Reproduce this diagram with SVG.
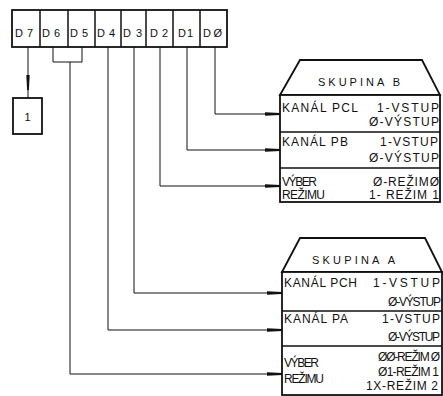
<svg xmlns="http://www.w3.org/2000/svg" width="443" height="396" viewBox="0 0 443 396">
<style>
text{font-family:"Liberation Sans","DejaVu Sans",Arial,sans-serif;fill:#111;}
.reg{font-size:11px;}
.t{font-size:12px;}
.h{font-size:11px;}
.box{fill:#fff;stroke:#111;stroke-width:1.8;}
.div{stroke:#111;stroke-width:1.5;fill:none;}
.wire{stroke:#111;stroke-width:1;fill:none;}
</style>
<defs>
<marker id="arr" markerUnits="userSpaceOnUse" markerWidth="16" markerHeight="5" refX="15" refY="2.5" orient="auto" viewBox="0 0 16 5">
<path d="M0,0.8 L15,1.6 L15,3.4 L0,4.2 z" fill="#111"/>
</marker>
</defs>
<g id="register">
<rect class="box" x="12" y="10" width="215" height="37"/>
<path class="div" d="M40,10V47M68,10V47M95,10V47M121,10V47M146,10V47M173,10V47M200,10V47"/>
<text class="reg" x="15" y="37" textLength="18" lengthAdjust="spacing">D7</text>
<text class="reg" x="42" y="37" textLength="18" lengthAdjust="spacing">D6</text>
<text class="reg" x="70" y="37" textLength="18" lengthAdjust="spacing">D5</text>
<text class="reg" x="97" y="37" textLength="18" lengthAdjust="spacing">D4</text>
<text class="reg" x="123" y="37" textLength="19" lengthAdjust="spacing">D3</text>
<text class="reg" x="150" y="37" textLength="18" lengthAdjust="spacing">D2</text>
<text class="reg" x="178" y="37" textLength="15" lengthAdjust="spacing">D1</text>
<text class="reg" x="203" y="37" textLength="19" lengthAdjust="spacing">DØ</text>
</g>
<g id="box1">
<rect class="box" x="13" y="98" width="29" height="36"/>
<text class="reg" x="27.5" y="121" text-anchor="middle">1</text>
</g>
<g id="skupinaB">
<path class="box" d="M280,95 L300,60 L422,60 L440,95 Z"/>
<rect class="box" x="280" y="95" width="160" height="107"/>
<path class="div" d="M280,132H440M280,168H440"/>
<text class="h" x="318" y="86" textLength="82" lengthAdjust="spacing">SKUPINA  B</text>
<text class="t" x="282" y="112" textLength="76" lengthAdjust="spacing">KANÁL  PCL</text>
<text class="t" x="377" y="112" textLength="62" lengthAdjust="spacing">1-VSTUP</text>
<text class="t" x="369" y="126" textLength="70" lengthAdjust="spacing">Ø-VÝSTUP</text>
<text class="t" x="282" y="146" textLength="66" lengthAdjust="spacing">KANÁL  PB</text>
<text class="t" x="380" y="146" textLength="58" lengthAdjust="spacing">1-VSTUP</text>
<text class="t" x="369" y="162" textLength="70" lengthAdjust="spacing">Ø-VÝSTUP</text>
<text class="t" x="282" y="186" textLength="35" lengthAdjust="spacing">VÝBER</text>
<text class="t" x="282" y="199" textLength="43" lengthAdjust="spacing">REŽIMU</text>
<text class="t" x="373" y="186" textLength="66" lengthAdjust="spacing">Ø-REŽIMØ</text>
<text class="t" x="369" y="199" textLength="70" lengthAdjust="spacing">1- REŽIM 1</text>
</g>
<g id="skupinaA">
<path class="box" d="M282,272 L300,238 L425,238 L442,272 Z"/>
<rect class="box" x="282" y="272" width="160" height="123"/>
<path class="div" d="M282,311H442M282,346H442"/>
<text class="h" x="312" y="264" textLength="83" lengthAdjust="spacing">SKUPINA   A</text>
<text class="t" x="284" y="287" textLength="73" lengthAdjust="spacing">KANÁL  PCH</text>
<text class="t" x="373" y="287" textLength="67" lengthAdjust="spacing">1-VSTUP</text>
<text class="t" x="388" y="306" textLength="53" lengthAdjust="spacing">Ø-VÝSTUP</text>
<text class="t" x="284" y="323" textLength="64" lengthAdjust="spacing">KANÁL  PA</text>
<text class="t" x="382" y="323" textLength="58" lengthAdjust="spacing">1-VSTUP</text>
<text class="t" x="388" y="341" textLength="52" lengthAdjust="spacing">Ø-VÝSTUP</text>
<text class="t" x="284" y="367" textLength="35" lengthAdjust="spacing">VÝBER</text>
<text class="t" x="284" y="383" textLength="40" lengthAdjust="spacing">REŽIMU</text>
<text class="t" x="378" y="361" textLength="62" lengthAdjust="spacing">ØØ-REŽIM Ø</text>
<text class="t" x="378" y="376" textLength="61" lengthAdjust="spacing">Ø1-REŽIM 1</text>
<text class="t" x="366" y="390" textLength="72" lengthAdjust="spacing">1X-REŽIM 2</text>
</g>
<g id="connectors">
<path class="wire" d="M28,47V90" marker-end="url(#arr)"/>
<path class="wire" d="M28,90V98"/>
<path class="wire" d="M53,47V62H82V47M70,62V374H282" marker-end="url(#arr)"/>
<path class="wire" d="M108,47V330H282" marker-end="url(#arr)"/>
<path class="wire" d="M134,47V293H282" marker-end="url(#arr)"/>
<path class="wire" d="M160,47V186H280" marker-end="url(#arr)"/>
<path class="wire" d="M187,47V150H280" marker-end="url(#arr)"/>
<path class="wire" d="M215,47V114H280" marker-end="url(#arr)"/>
</g>
</svg>
